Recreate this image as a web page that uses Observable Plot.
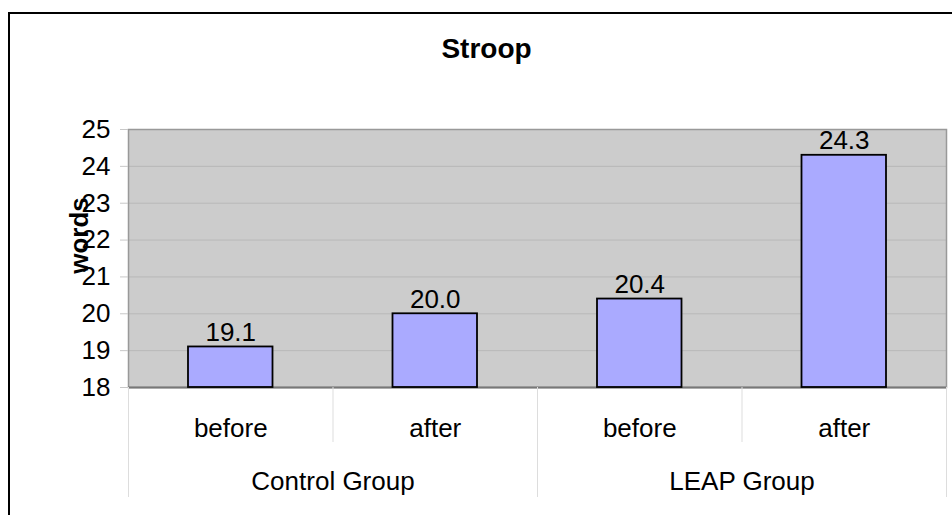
<!DOCTYPE html>
<html>
<head>
<meta charset="utf-8">
<script src="https://cdn.jsdelivr.net/npm/d3@7"></script>
<script src="https://cdn.jsdelivr.net/npm/@observablehq/plot@0.6"></script>
<style>
html, body { margin: 0; padding: 0; background: #fff; overflow: hidden; }
#wrap { position: relative; width: 952px; height: 515px; }
#wrap svg { display: block; }
#border { position: absolute; left: 8px; top: 12px; width: 1000px; height: 600px;
  border-left: 2px solid #000; border-top: 2px solid #000; pointer-events: none; }
</style>
</head>
<body>
<div id="wrap"><div id="border"></div></div>
<script>
const title = "Stroop";
const yLabel = "words";
const groups = ["Control Group", "LEAP Group"];
const phases = ["before", "after"];
const values = [19.1, 20.0, 20.4, 24.3];
const yTicks = [18, 19, 20, 21, 22, 23, 24, 25];

const rows = [];
groups.forEach((g, gi) => phases.forEach((p, pi) => {
  const i = gi * phases.length + pi;
  rows.push({group: g, phase: p, value: values[i], i});
}));
const groupRows = groups.map((g, gi) => ({group: g, mid: (gi + 0.5) * phases.length}));
const n = rows.length;
const bounds = d3.range(n + 1);
const longBounds = bounds.filter(b => b % phases.length === 0);
const shortBounds = bounds.filter(b => b % phases.length !== 0);
const yMin = yTicks[0], yMax = yTicks[yTicks.length - 1];
const innerGrid = yTicks.filter(t => t !== yMin && t !== yMax);

const font = "'Liberation Sans', Arial, Helvetica, sans-serif";

const chart = Plot.plot({
  width: 952,
  height: 515,
  marginLeft: 128,
  marginRight: 6,
  marginTop: 129,
  marginBottom: 128,
  style: {fontFamily: font, fontSize: "26px", background: "transparent", color: "#000"},
  x: {type: "linear", domain: [0, n], axis: null},
  y: {type: "linear", domain: [yMin, yMax], axis: null},
  marks: [
    Plot.frame({fill: "#cccccc"}),
    Plot.ruleY(innerGrid, {stroke: "#b8b8b8", strokeWidth: 1}),
    Plot.frame({stroke: "#999999", strokeWidth: 1.5}),
    Plot.ruleY([yMin], {stroke: "#777777", strokeWidth: 2}),
    Plot.ruleX(shortBounds, {x: d => d, y1: yMin, y2: yMin, insetBottom: -55, stroke: "#dddddd", strokeWidth: 1}),
    Plot.ruleX(longBounds, {x: d => d, y1: yMin, y2: yMin, insetBottom: -110, stroke: "#dddddd", strokeWidth: 1}),
    Plot.axisY(yTicks, {tickSize: 8, tickPadding: 10, stroke: "#c8c8c8", fill: "#000", fontSize: 26, label: null}),
    Plot.rect(rows, {
      x1: "i", x2: d => d.i + 1, y1: yMin, y2: "value",
      insetLeft: 60, insetRight: 60,
      fill: "#aaaaff", stroke: "#000", strokeWidth: 1.8
    }),
    Plot.text(rows, {
      x: d => d.i + 0.5, y: "value", text: d => d.value.toFixed(1),
      lineAnchor: "bottom", dy: -6, fontSize: 26, fill: "#000"
    }),
    Plot.text(rows, {
      x: d => d.i + 0.5, text: "phase", frameAnchor: "bottom",
      lineAnchor: "bottom", dy: 49, fontSize: 26, fill: "#000"
    }),
    Plot.text(groupRows, {
      x: "mid", text: "group", frameAnchor: "bottom",
      lineAnchor: "bottom", dy: 102, fontSize: 26, fill: "#000"
    }),
    Plot.text([yLabel], {
      frameAnchor: "left", textAnchor: "middle", rotate: -90, dx: -49, dy: -23,
      fontSize: 26, fontWeight: "bold", fill: "#000"
    }),
    Plot.text([title], {
      frameAnchor: "top", lineAnchor: "bottom", dx: -51, dy: -72,
      fontSize: 28, fontWeight: "bold", fill: "#000"
    })
  ]
});
document.getElementById("wrap").insertBefore(chart, document.getElementById("border"));
</script>
</body>
</html>
